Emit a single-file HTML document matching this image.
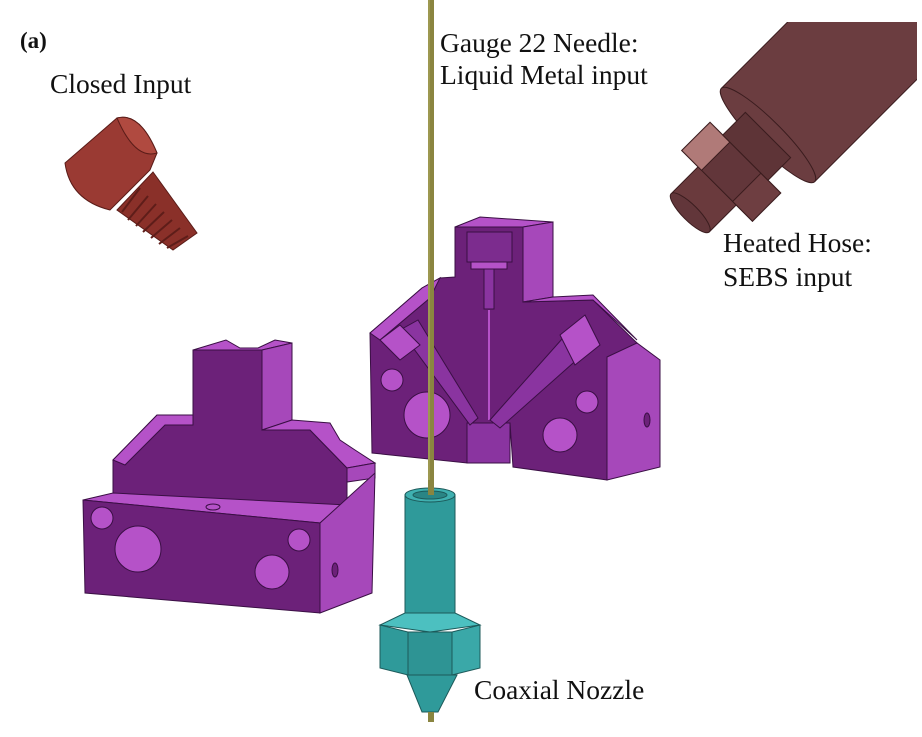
<!DOCTYPE html>
<html><head><style>
html,body{margin:0;padding:0;background:#fff;}
svg{display:block;}
text{font-family:"Liberation Serif",serif;fill:#111;}
</style></head><body>
<svg width="922" height="737" viewBox="0 0 922 737" xmlns="http://www.w3.org/2000/svg">
<defs><clipPath id="hc"><rect x="0" y="22" width="917" height="715"/></clipPath></defs>
<rect width="922" height="737" fill="#fff"/>
<text x="20" y="48" font-size="23" font-weight="bold">(a)</text>
<text x="50" y="93" font-size="27.5">Closed Input</text>
<text x="440" y="52" font-size="27.5">Gauge 22 Needle:</text>
<text x="440" y="84" font-size="27.5">Liquid Metal input</text>
<text x="723" y="252" font-size="27.5">Heated Hose:</text>
<text x="723" y="286" font-size="27.5">SEBS input</text>
<text x="474" y="699" font-size="27.5">Coaxial Nozzle</text>

<!-- screw -->
<g stroke="#5a1c18" stroke-width="1">
<polygon points="117,210 153,172 197,233 173,250" fill="#8a3029"/>
<g stroke="#5e1d19" stroke-width="2">
<line x1="140" y1="188" x2="122" y2="212"/><line x1="148" y1="196" x2="128" y2="220"/>
<line x1="156" y1="204" x2="136" y2="226"/><line x1="164" y1="212" x2="143" y2="232"/>
<line x1="172" y1="220" x2="151" y2="238"/><line x1="180" y1="228" x2="159" y2="244"/>
<line x1="188" y1="236" x2="167" y2="248"/>
</g>
<path d="M65,163 L117,118 Q140,112 157,153 L150,170 L110,210 Q70,200 65,163 Z" fill="#9a3a33"/>
<path d="M117,118 Q140,112 157,153 Q135,160 117,118 Z" fill="#b04a40"/>
</g>

<!-- hose -->
<g clip-path="url(#hc)">
<g transform="translate(768,135) rotate(-45)" stroke="#3a1c1e" stroke-width="1">
<rect x="0" y="-66" width="320" height="132" fill="#6b3d40"/>
<ellipse cx="0" cy="0" rx="14" ry="66" fill="#6b3d40"/>
</g>
</g>
<g transform="translate(768,135) rotate(-45)" stroke="#3a1c1e" stroke-width="1">
<rect x="-110" y="-27" width="40" height="54" fill="#6a3a3d"/>
<ellipse cx="-110" cy="0" rx="8" ry="27" fill="#62363a"/>
<rect x="-72" y="-50" width="40" height="100" fill="#62363a"/>
<rect x="-72" y="-50" width="40" height="28" fill="#b07a78"/>
<rect x="-72" y="22" width="40" height="28" fill="#6e3e41"/>
<rect x="-32" y="-32" width="32" height="64" fill="#5e3437"/>
</g>

<!-- left block -->
<g stroke="#3a0f44" stroke-width="1">
<polygon points="113,495 113,460 157,415 193,415 193,350 262,350 262,430 310,430 347,468 347,508 113,500" fill="#6c2179"/>
<polygon points="193,350 226,340 240,348 258,348 275,340 292,343 262,350" fill="#b552c8"/>
<polygon points="262,350 292,343 292,420 262,430" fill="#a648ba"/>
<polygon points="113,460 157,415 193,415 193,425 165,425 125,465" fill="#b552c8"/>
<polygon points="262,430 292,420 330,423 340,440 355,450 375,463 347,468 310,430" fill="#b552c8"/>
<polygon points="347,468 375,463 375,478 347,482" fill="#a648ba"/>
<polygon points="83,500 113,493 347,505 375,475 320,523" fill="#b552c8"/>
<polygon points="83,500 320,523 320,613 85,593" fill="#6c2179"/>
<polygon points="320,523 375,473 372,593 320,613" fill="#a648ba"/>
</g>
<g fill="#b552c8" stroke="#3a0f44">
<circle cx="102" cy="518" r="11"/><circle cx="138" cy="549" r="23"/>
<circle cx="299" cy="540" r="11"/><circle cx="272" cy="572" r="17"/>
<ellipse cx="213" cy="507" rx="7" ry="3"/><ellipse cx="335" cy="570" rx="3" ry="7" fill="#6c2179"/>
</g>

<!-- right block -->
<g stroke="#3a0f44" stroke-width="1">
<polygon points="370,333 422,288 440,278 455,277 455,227 523,227 523,302 593,300 637,343 637,468 607,480 513,467 510,423 467,423 467,463 372,453" fill="#6c2179"/>
<polygon points="455,227 480,217 553,222 523,227" fill="#b552c8"/>
<polygon points="523,227 553,222 553,297 523,302" fill="#a648ba"/>
<polygon points="523,302 553,297 593,295 637,340 593,300" fill="#b552c8"/>
<polygon points="607,357 637,343 660,360 660,467 607,480" fill="#a648ba"/>
<polygon points="370,333 422,288 440,278 430,298 380,340" fill="#b552c8"/>
<rect x="467" y="423" width="43" height="40" fill="#8a34a0"/>
<rect x="467" y="232" width="45" height="30" fill="#7c2c8e"/>
<rect x="471" y="262" width="36" height="7" fill="#b552c8"/>
<rect x="484" y="269" width="10" height="40" fill="#8a34a0"/>
<line x1="489" y1="310" x2="489" y2="420" stroke="#b552c8" stroke-width="2"/>
<polygon points="400,330 418,320 478,418 470,425" fill="#8a34a0"/>
<polygon points="570,330 590,348 500,428 490,420" fill="#8a34a0"/>
<polygon points="380,340 400,325 420,345 400,360" fill="#b552c8"/>
<polygon points="560,335 585,315 600,345 575,365" fill="#b552c8"/>
</g>
<g fill="#b552c8" stroke="#3a0f44">
<circle cx="392" cy="380" r="11"/><circle cx="427" cy="415" r="23"/>
<circle cx="587" cy="402" r="11"/><circle cx="560" cy="435" r="17"/>
<ellipse cx="647" cy="420" rx="3" ry="7" fill="#6c2179"/>
</g>

<!-- needle -->
<rect x="428" y="0" width="6" height="722" fill="#8a8540"/>
<line x1="429" y1="0" x2="429" y2="722" stroke="#b0ab60" stroke-width="1"/>

<!-- nozzle -->
<g stroke="#1c5a5a" stroke-width="1">
<rect x="405" y="495" width="50" height="125" fill="#2f9a9a"/>
<ellipse cx="430" cy="495" rx="25" ry="7" fill="#3fb0b0"/>
<ellipse cx="430" cy="495" rx="17" ry="4" fill="#2a8585"/>
<rect x="428" y="480" width="6" height="15" fill="#8a8540" stroke="none"/>
<polygon points="380,625 405,613 455,613 480,625 430,632" fill="#4cc0c0"/>
<polygon points="380,625 408,632 408,675 380,668" fill="#2f9a9a"/>
<polygon points="408,632 452,632 452,675 408,675" fill="#2e9494"/>
<polygon points="452,632 480,625 480,668 452,675" fill="#3aa8a8"/>
<polygon points="407,675 457,675 438,712 422,712" fill="#2f9a9a"/>
</g>
<rect x="428" y="712" width="6" height="10" fill="#8a8540"/>
</svg>
</body></html>
